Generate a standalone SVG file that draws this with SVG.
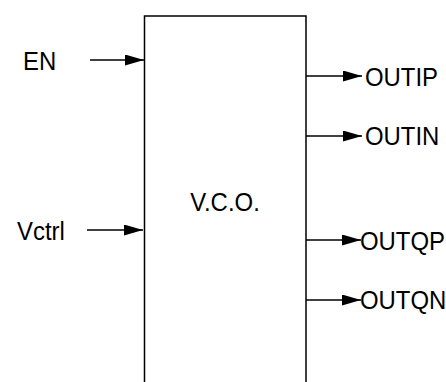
<svg xmlns="http://www.w3.org/2000/svg" width="446" height="382" viewBox="0 0 446 382">
<defs>
<marker id="ah" markerWidth="19" markerHeight="11" refX="19" refY="5.5" orient="auto" markerUnits="userSpaceOnUse">
<path d="M0,0 L19,5.5 L0,11 Z" fill="#000"/>
</marker>
<style>
.t{font-family:"Liberation Sans",Arial,sans-serif;font-size:26px;fill:#000}
.c{stroke:#000;stroke-width:1.5;fill:none;marker-end:url(#ah)}
.b{stroke:#000;stroke-width:1.5;fill:#fff}
</style>
</defs>
<g id="vco">
<path class="b" d="M144.5,383 L144.5,16 L306,16 L306,383"/>
<text class="t" transform="translate(225 211) scale(0.92 1)" text-anchor="middle">V.C.O.</text>
</g>
<g id="en"><text class="t" transform="translate(23 70) scale(0.92 1)">EN</text></g>
<g id="vctrl"><text class="t" transform="translate(17 240) scale(0.92 1)">Vctrl</text></g>
<g id="outip"><text class="t" transform="translate(365 86) scale(0.92 1)">OUTIP</text></g>
<g id="outin"><text class="t" transform="translate(365 145) scale(0.92 1)">OUTIN</text></g>
<g id="outqp"><text class="t" transform="translate(360 250) scale(0.92 1)">OUTQP</text></g>
<g id="outqn"><text class="t" transform="translate(360 309) scale(0.92 1)">OUTQN</text></g>
<g id="connectors">
<line class="c" x1="90" y1="60" x2="144" y2="60"/>
<line class="c" x1="87" y1="230" x2="143" y2="230"/>
<line class="c" x1="306" y1="76" x2="362" y2="76"/>
<line class="c" x1="306" y1="136" x2="362" y2="136"/>
<line class="c" x1="306" y1="240" x2="361" y2="240"/>
<line class="c" x1="306" y1="300" x2="361" y2="300"/>
</g>
</svg>
